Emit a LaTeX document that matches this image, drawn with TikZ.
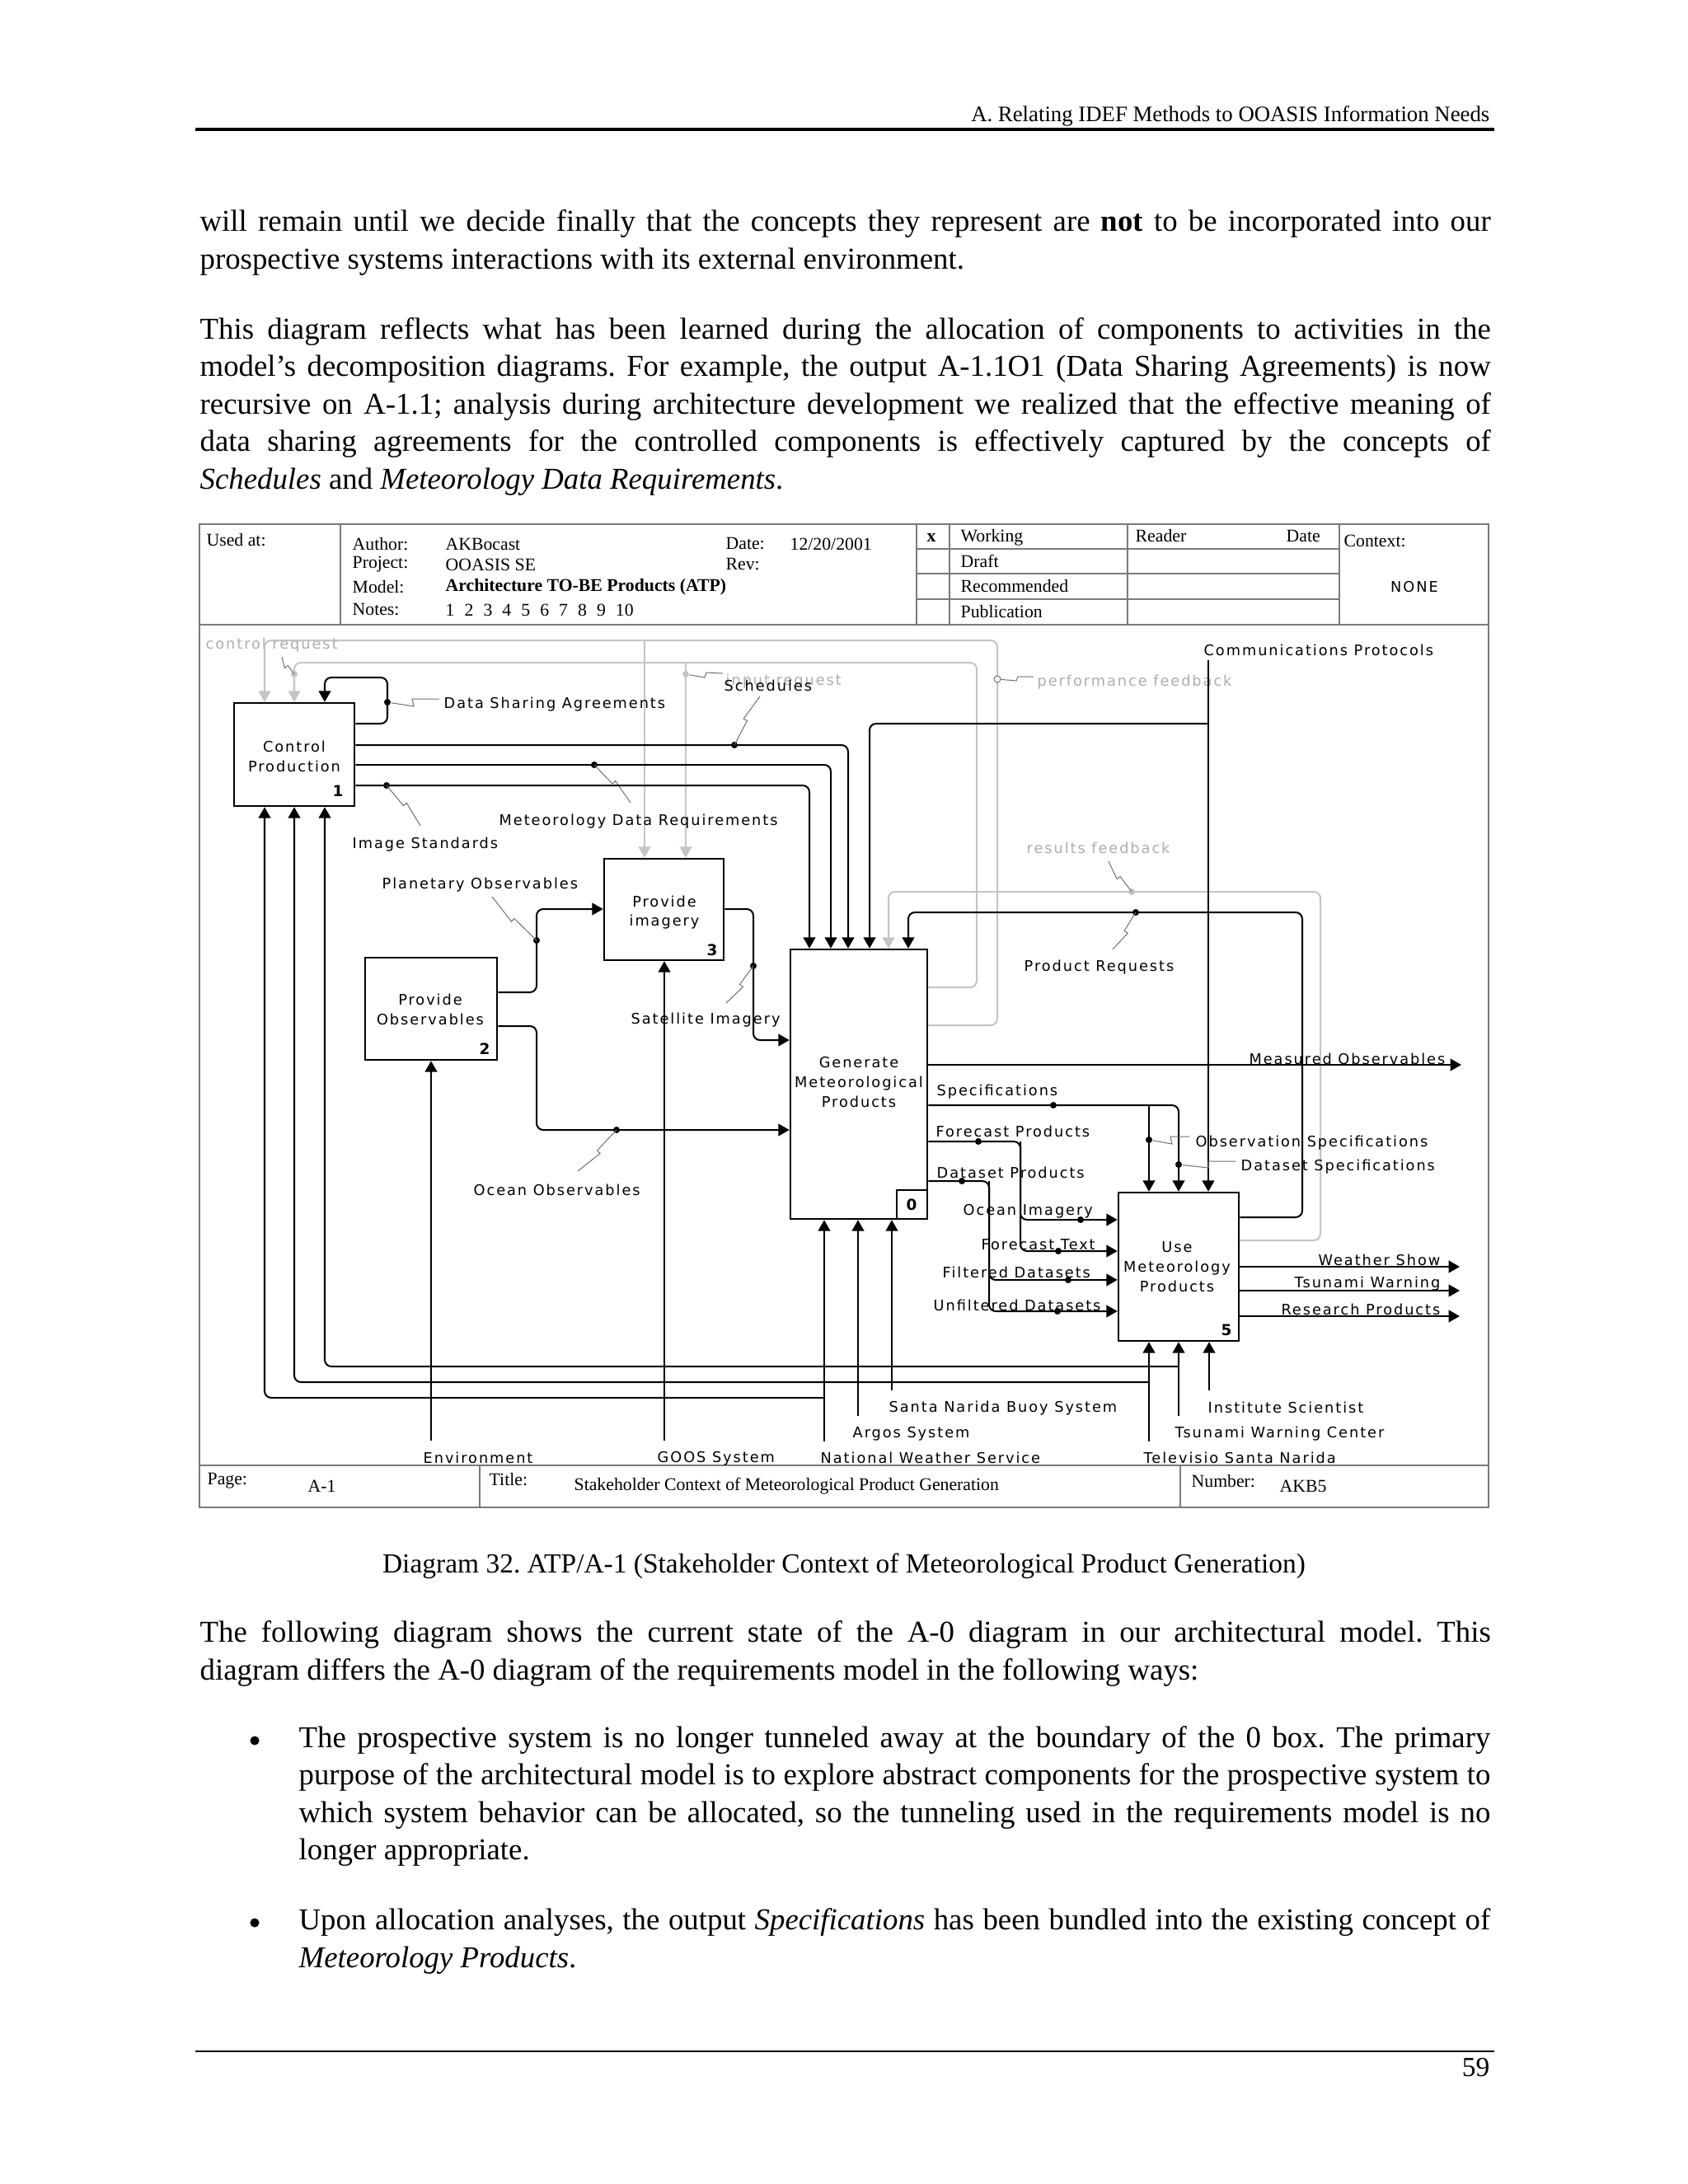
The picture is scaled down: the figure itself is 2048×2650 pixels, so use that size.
\documentclass[tikz,border=0pt]{standalone}
\usepackage{fontspec}
\setmainfont{Liberation Serif}
\newfontfamily\diagfont[LetterSpace=11]{DejaVu Sans}
\newfontfamily\numfont{DejaVu Sans}
\usetikzlibrary{arrows.meta,calc,fit}
\definecolor{lgray}{HTML}{C4C4C4}
\definecolor{tgray}{HTML}{ADADAD}
\definecolor{sqgray}{HTML}{707070}
\definecolor{framegray}{HTML}{7A7A7A}
\tikzset{
 conn/.style={line width=0.6pt, rounded corners=2.4pt},
 arr/.style={conn, -{Triangle[length=4pt,width=4.4pt]}},
 garr/.style={arr, draw=lgray},
 idefbox/.style={draw, line width=0.75pt, inner sep=0pt},
 boxtxt/.style={inner sep=0pt, align=center, font=\diagfont\fontsize{5.3}{7.1}\selectfont},
 lbl/.style={inner sep=0pt, anchor=west, yshift=-0.7pt, font=\diagfont\fontsize{5.3}{6.4}\selectfont},
 rlbl/.style={lbl, anchor=east},
 glbl/.style={lbl, text=tgray},
 boxnum/.style={inner sep=0pt, font=\numfont\bfseries\fontsize{5.5}{6.6}\selectfont},
 jdot/.style={circle, fill=black, inner sep=0pt, minimum size=2.4pt},
 gjdot/.style={jdot, fill=lgray},
 squigline/.style={draw=sqgray, line width=0.3pt},
 hdr/.style={inner sep=0pt, anchor=west, font=\fontsize{6.5}{7.8}\selectfont},
 frameline/.style={draw=framegray, line width=0.5pt},
 bodytxt/.style={inner sep=0pt, anchor=base west, font=\fontsize{11}{13.6}\selectfont\frenchspacing},
}
\newcommand{\squig}[2]{\draw[squigline] (#1) -- ($(#1)!0.5!(#2)$) -- ($(#1)!0.5!(#2)!1.5pt!90:(#2)$) -- (#2);}
\begin{document}
\begin{tikzpicture}[x=0.29883pt, y=-0.29883pt]
\useasboundingbox (0,0) rectangle (2048,2650);
\fill[white] (0,0) rectangle (2048,2650);

% ---------- page header / footer ----------
\node[inner sep=0pt, anchor=base east, font=\fontsize{8}{10}\selectfont\frenchspacing] (runhead) at (1808,147) {A. Relating IDEF Methods to OOASIS Information Needs};
\draw[line width=1pt] (237,157) -- (1813,157);
\draw[line width=0.8pt] (237,2489) -- (1813,2489);
\node[inner sep=0pt, anchor=base east, font=\fontsize{10}{12}\selectfont] (pgnum) at (1808,2519) {59};

% ---------- body text ----------
\node[bodytxt] (p1a) at (242,280) {\makebox[468pt][s]{will remain until we decide finally that the concepts they represent are \textbf{not} to be incorporated into our}};
\node[bodytxt] (p1b) at (242,326) {prospective systems interactions with its external environment.};
\node[bodytxt] (p2a) at (242,411) {\makebox[468pt][s]{This diagram reflects what has been learned during the allocation of components to activities in the}};
\node[bodytxt] (p2b) at (242,456) {\makebox[468pt][s]{model’s decomposition diagrams. For example, the output A-1.1O1 (Data Sharing Agreements) is now}};
\node[bodytxt] (p2c) at (242,502) {\makebox[468pt][s]{recursive on A-1.1; analysis during architecture development we realized that the effective meaning of}};
\node[bodytxt] (p2d) at (242,547) {\makebox[468pt][s]{data sharing agreements for the controlled components is effectively captured by the concepts of}};
\node[bodytxt] (p2e) at (242,593) {\textit{Schedules} and \textit{Meteorology Data Requirements}.};
\node[bodytxt, anchor=base, font=\fontsize{10}{12}\selectfont\frenchspacing] (cap) at (1024,1908) {Diagram 32. ATP/A-1 (Stakeholder Context of Meteorological Product Generation)};
\node[bodytxt] (p3a) at (242,1992) {\makebox[468pt][s]{The following diagram shows the current state of the A-0 diagram in our architectural model. This}};
\node[bodytxt] (p3b) at (242,2038) {diagram differs the A-0 diagram of the requirements model in the following ways:};
\node[circle, fill=black, inner sep=0pt, minimum size=3.3pt] (bul1) at (309,2112) {};
\node[bodytxt] (b1a) at (362,2120) {\makebox[432pt][s]{The prospective system is no longer tunneled away at the boundary of the 0 box. The primary}};
\node[bodytxt] (b1b) at (362,2165) {\makebox[432pt][s]{purpose of the architectural model is to explore abstract components for the prospective system to}};
\node[bodytxt] (b1c) at (362,2211) {\makebox[432pt][s]{which system behavior can be allocated, so the tunneling used in the requirements model is no}};
\node[bodytxt] (b1d) at (362,2256) {longer appropriate.};
\node[circle, fill=black, inner sep=0pt, minimum size=3.3pt] (bul2) at (309,2333) {};
\node[bodytxt] (b2a) at (362,2341) {\makebox[432pt][s]{Upon allocation analyses, the output \textit{Specifications} has been bundled into the existing concept of}};
\node[bodytxt] (b2b) at (362,2387) {\textit{Meteorology Products}.};

% ---------- diagram frame ----------
\draw[frameline] (242,636) rectangle (1806,1829);
\draw[frameline] (242,758) -- (1806,758);
\draw[frameline] (242,1778) -- (1806,1778);
\foreach \xx in {413,1112,1152,1368,1625} \draw[frameline] (\xx,636) -- (\xx,758);
\foreach \yy in {666,696,727} \draw[frameline] (1112,\yy) -- (1625,\yy);
\foreach \xx in {582,1432} \draw[frameline] (\xx,1778) -- (\xx,1829);

% header texts
\node[hdr] (usedat) at (250,655) {Used at:};
\node[hdr] (hauth) at (427,660) {Author:};
\node[hdr] (vauth) at (540,660) {AKBocast};
\node[hdr] (hdate) at (880,660) {Date:};
\node[hdr] (vdate) at (958,660) {12/20/2001};
\node[hdr] (hproj) at (427,685) {Project:};
\node[hdr] (vproj) at (540,685) {OOASIS SE};
\node[hdr] (hrev) at (880,685) {Rev:};
\node[hdr] (hmodel) at (427,712) {Model:};
\node[hdr] (vmodel) at (540,712) {\textbf{Architecture TO-BE Products (ATP)}};
\node[hdr] (hnotes) at (427,740) {Notes:};
\node[hdr] (vnotes) at (540,740) {1\hspace{3.6pt}2\hspace{3.6pt}3\hspace{3.6pt}4\hspace{3.6pt}5\hspace{3.6pt}6\hspace{3.6pt}7\hspace{3.6pt}8\hspace{3.6pt}9\hspace{3.6pt}10};
\node[hdr, anchor=center] (hx) at (1130,652) {\textbf{x}};
\node[hdr] (hwork) at (1165,652) {Working};
\node[hdr] (hdraft) at (1165,681) {Draft};
\node[hdr] (hrec) at (1165,711) {Recommended};
\node[hdr] (hpub) at (1165,742) {Publication};
\node[hdr] (hreader) at (1377,650) {Reader};
\node[hdr] (hrdate) at (1560,650) {Date};
\node[hdr] (hctx) at (1630,656) {Context:};
\node[lbl, anchor=center] (none) at (1716,710) {NONE};
% footer texts
\node[hdr] (fpage) at (251,1797) {Page:};
\node[hdr] (vpage) at (373,1803) {A-1};
\node[hdr] (ftitle) at (593,1795) {Title:};
\node[hdr] (vtitle) at (696,1803) {Stakeholder Context of Meteorological Product Generation};
\node[hdr] (fnum) at (1445,1797) {Number:};
\node[hdr] (vnum) at (1552,1803) {AKB5};

% ---------- boxes ----------
\node[idefbox, fit={(284,853) (430,978)}] (b1) {};
\node[idefbox, fit={(443,1162) (603,1286)}] (b2) {};
\node[idefbox, fit={(733,1042) (878,1165)}] (b3) {};
\node[idefbox, fit={(959,1152) (1125,1479)}] (b0) {};
\node[idefbox, fit={(1357,1447) (1503,1627)}] (b5) {};
\node[boxtxt] (b1t) at (357,918) {Control\\Production};
\node[boxtxt] (b2t) at (522,1225) {Provide\\Observables};
\node[boxtxt] (b3t) at (806,1107) {Provide\\imagery};
\node[boxtxt] (b0t) at (1042,1313) {Generate\\Meteorological\\Products};
\node[boxtxt] (b5t) at (1428,1537) {Use\\Meteorology\\Products};
\draw[line width=0.75pt] (1088,1479) |- (1125,1444);
\node[boxnum] (n1) at (410,960) {1};
\node[boxnum] (n2) at (588,1273) {2};
\node[boxnum] (n3) at (864,1153) {3};
\node[boxnum] (n0) at (1106,1462) {0};
\node[boxnum] (n5) at (1488,1614) {5};

% ---------- gray labels ----------
\node[glbl] (lctrl) at (249,780) {control request};
\node[glbl] (linput) at (880,824) {input request};
\node[glbl] (lperf) at (1258,825) {performance feedback};
\node[glbl] (lres) at (1245,1027) {results feedback};

% ---------- gray connectors ----------
\draw[garr] (b0.east |- 0,1244) -- (1210,1244) -- (1210,777) -- (321,777) -- (b1.north -| 321,0);
\draw[garr] (782,777) -- (b3.north -| 782,0);
\draw[garr] (b0.east |- 0,1198) -- (1185,1198) -- (1185,804) -- (357,804) -- (b1.north -| 357,0);
\draw[garr] (832,804) -- (b3.north -| 832,0);
\draw[garr] (b5.east |- 0,1505) -- (1602,1505) -- (1602,1082) -- (1078,1082) -- (b0.north -| 1078,0);

\node[gjdot] (dctrl) at (357,818) {};
\node[gjdot] (dinput) at (832,818) {};
\node[circle, draw=sqgray, fill=white, line width=0.3pt, inner sep=0pt, minimum size=2.4pt] (dperf) at (1210,824) {};
\node[gjdot] (dres) at (1373,1082) {};
\coordinate (sqctrl) at (342,797);
\squig{dctrl.center}{sqctrl}
\draw[squigline] (dinput) -- (855,822) -- (857,816) -- (877,817);
\draw[squigline] (dperf) -- (1233,826) -- (1235,821) -- (1254,821);
\coordinate (sqres) at (1345,1045);
\squig{dres.center}{sqres}

% ---------- black connectors ----------
% Data Sharing Agreements (self loop)
\draw[arr] (b1.east |- 0,878) -- (470,878) -- (470,822) -- (394,822) -- (b1.north -| 394,0);
\node[jdot] (ddsa) at (470,852) {};
\draw[squigline] (ddsa) -- (502,857) -- (500,848) -- (533,848);
\node[lbl] (ldsa) at (538,852) {Data Sharing Agreements};

% Schedules
\draw[arr] (b1.east |- 0,904) -- (1029,904) -- (b0.north -| 1029,0);
\node[jdot] (dsch) at (891,904) {};
\coordinate (sqsch) at (922,845);
\squig{dsch.center}{sqsch}
\node[lbl] (lsch) at (878,830) {Schedules};

% Meteorology Data Requirements
\draw[arr] (b1.east |- 0,928) -- (1008,928) -- (b0.north -| 1008,0);
\node[jdot] (dmdr) at (721,928) {};
\coordinate (sqmdr) at (765,974);
\squig{dmdr.center}{sqmdr}
\node[lbl] (lmdr) at (605,994) {Meteorology Data Requirements};

% Image Standards
\draw[arr] (b1.east |- 0,953) -- (982,953) -- (b0.north -| 982,0);
\node[jdot] (dimg) at (469,953) {};
\coordinate (sqimg) at (510,1002);
\squig{dimg.center}{sqimg}
\node[lbl] (limg) at (427,1022) {Image Standards};

% Communications Protocols
\coordinate (cptop) at (1466,801);
\draw[arr] (cptop) -- (b5.north -| 1466,0);
\draw[arr] (1466,878) -- (1055,878) -- (b0.north -| 1055,0);
\node[lbl] (lcp) at (1460,787) {Communications Protocols};

% Product Requests
\draw[arr] (b5.east |- 0,1477) -- (1580,1477) -- (1580,1107) -- (1102,1107) -- (b0.north -| 1102,0);
\node[jdot] (dpr) at (1378,1107) {};
\coordinate (sqpr) at (1350,1152);
\squig{dpr.center}{sqpr}
\node[lbl] (lpr) at (1242,1171) {Product Requests};

% Planetary Observables
\draw[arr] (b2.east |- 0,1204) -- (651,1204) -- (651,1103) -- (b3.west |- 0,1103);
\node[jdot] (dpla) at (651,1141) {};
\coordinate (sqpla) at (597,1088);
\squig{dpla.center}{sqpla}
\node[lbl] (lpla) at (463,1071) {Planetary Observables};

% Ocean Observables
\draw[arr] (b2.east |- 0,1245) -- (651,1245) -- (651,1371) -- (b0.west |- 0,1371);
\node[jdot] (doo) at (748,1371) {};
\coordinate (sqoo) at (701,1421);
\squig{doo.center}{sqoo}
\node[lbl] (loo) at (574,1442) {Ocean Observables};

% Satellite Imagery
\draw[arr] (b3.east |- 0,1103) -- (914,1103) -- (914,1262) -- (b0.west |- 0,1262);
\node[jdot] (dsat) at (914,1172) {};
\coordinate (sqsat) at (881,1217);
\squig{dsat.center}{sqsat}
\node[lbl] (lsat) at (765,1235) {Satellite Imagery};

% Measured Observables
\draw[arr] (b0.east |- 0,1292) -- (1773,1292);
\node[rlbl] (lmo) at (1754,1283) {Measured Observables};

% Specifications
\draw[arr] (b0.east |- 0,1341) -- (1430,1341) -- (b5.north -| 1430,0);
\draw[arr] (1394,1341) -- (b5.north -| 1394,0);
\node[jdot] (dspec) at (1278,1341) {};
\node[lbl] (lspec) at (1136,1322) {Specifications};
\node[jdot] (dobs) at (1394,1383) {};
\draw[squigline] (dobs) -- (1422,1388) -- (1420,1379) -- (1443,1379);
\node[lbl] (lobs) at (1450,1384) {Observation Specifications};
\node[jdot] (ddss) at (1430,1413) {};
\draw[squigline] (ddss) -- (1466,1417) -- (1466,1409) -- (1499,1409);
\node[lbl] (ldss) at (1505,1413) {Dataset Specifications};

% Forecast Products
\draw[arr] (b0.east |- 0,1385) -- (1238,1385) -- (1238,1480) -- (b5.west |- 0,1480);
\draw[arr] (1238,1385) -- (1238,1518) -- (b5.west |- 0,1518);
\node[jdot] (dfp) at (1187,1385) {};
\node[jdot] (doi) at (1311,1480) {};
\node[jdot] (dft) at (1284,1518) {};
\node[lbl] (lfp) at (1135,1371) {Forecast Products};
\node[lbl] (loi) at (1168,1467) {Ocean Imagery};
\node[lbl] (lft) at (1190,1508) {Forecast Text};

% Dataset Products
\draw[arr] (b0.east |- 0,1433) -- (1200,1433) -- (1200,1553) -- (b5.west |- 0,1553);
\draw[arr] (1200,1433) -- (1200,1591) -- (b5.west |- 0,1591);
\node[jdot] (ddp) at (1167,1433) {};
\node[jdot] (dfd) at (1296,1553) {};
\node[jdot] (dud) at (1283,1591) {};
\node[lbl] (ldp) at (1136,1421) {Dataset Products};
\node[lbl] (lfd) at (1143,1542) {Filtered Datasets};
\node[lbl] (lud) at (1132,1582) {Unfiltered Datasets};

% Outputs of box 5
\draw[arr] (b5.east |- 0,1537) -- (1771,1537);
\draw[arr] (b5.east |- 0,1566) -- (1771,1566);
\draw[arr] (b5.east |- 0,1597) -- (1771,1597);
\node[rlbl] (lws) at (1748,1527) {Weather Show};
\node[rlbl] (ltw) at (1748,1555) {Tsunami Warning};
\node[rlbl] (lrp) at (1748,1587) {Research Products};

% Mechanisms from the bottom
\coordinate (menv) at (523,1748);
\draw[arr] (menv) -- (b2.south -| 523,0);
\node[lbl] (lenv) at (513,1767) {Environment};
\coordinate (mgoos) at (806,1748);
\draw[arr] (mgoos) -- (b3.south -| 806,0);
\node[lbl] (lgoos) at (797,1767) {GOOS System};
\coordinate (mnws) at (1000,1749);
\draw[arr] (mnws) -- (b0.south -| 1000,0);
\draw[arr] (1000,1696) -- (321,1696) -- (b1.south -| 321,0);
\node[lbl] (lnws) at (995,1767) {National Weather Service};
\coordinate (margos) at (1041,1718);
\draw[arr] (margos) -- (b0.south -| 1041,0);
\node[lbl] (largos) at (1034,1737) {Argos System};
\coordinate (mbuoy) at (1082,1687);
\draw[arr] (mbuoy) -- (b0.south -| 1082,0);
\node[lbl] (lbuoy) at (1078,1706) {Santa Narida Buoy System};
\coordinate (mtv) at (1394,1749);
\draw[arr] (mtv) -- (b5.south -| 1394,0);
\draw[arr] (1394,1677) -- (357,1677) -- (b1.south -| 357,0);
\node[lbl] (ltv) at (1387,1767) {Televisio Santa Narida};
\coordinate (mtwc) at (1430,1718);
\draw[arr] (mtwc) -- (b5.south -| 1430,0);
\draw[arr] (1430,1658) -- (394,1658) -- (b1.south -| 394,0);
\node[lbl] (ltwc) at (1425,1737) {Tsunami Warning Center};
\coordinate (mis) at (1467,1687);
\draw[arr] (mis) -- (b5.south -| 1467,0);
\node[lbl] (lis) at (1465,1706) {Institute Scientist};
\end{tikzpicture}
\end{document}
